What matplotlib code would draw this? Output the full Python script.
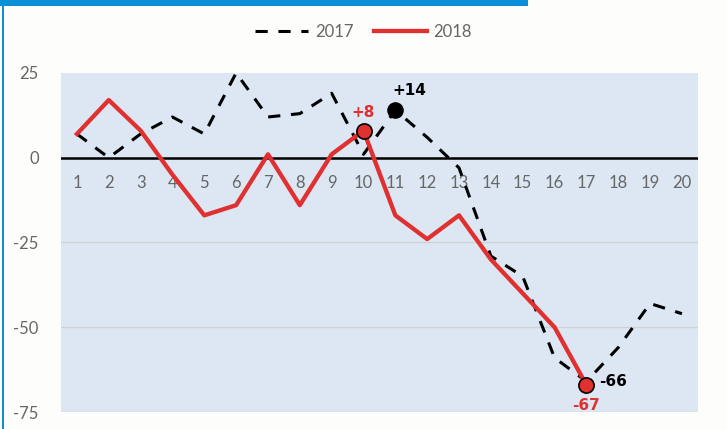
import numpy as np
import matplotlib.pyplot as plt
from matplotlib.patches import Rectangle
from matplotlib.lines import Line2D

days = list(range(1, 21))
y2017 = [7, 0, 7, 12, 7, 25, 12, 13, 19, 1, 14, 6, -3, -29, -35, -59, -66, -56, -43, -46]
days2018 = list(range(1, 18))
y2018 = [7, 17, 8, -5, -17, -14, 1, -14, 1, 8, -17, -24, -17, -30, -40, -50, -67]
yticks = [25, 0, -25, -50, -75]

plt.rcParams['font.family'] = ['Lato', 'DejaVu Sans']

gray = '#666666'
red = '#e03030'
bold = dict(fontsize=11, fontweight='bold', family='DejaVu Sans')

fig = plt.figure(figsize=(7.27, 4.29), dpi=100)
fig.patch.set_facecolor('#fdfdfc')
ax = fig.add_axes([0.0839, 0.0396, 0.876, 0.7904])
ax.set_facecolor('#dce7f3')

for gy in [-25, -50, -75]:
    ax.axhline(gy, color='#cfd3d8', lw=1, zorder=1)
ax.axhline(0, color='black', lw=1.8, zorder=2)

ax.plot(days, y2017, color='black', lw=2.2, dashes=(4, 3.5), zorder=3)
ax.plot(days2018, y2018, color=red, lw=3.1, zorder=4)

# highlighted points
ax.scatter([11], [14], s=120, color='black', zorder=5)
ax.scatter([10, 17], [8, -67], s=120, color=red, edgecolor='black', lw=1.2, zorder=6)

ax.text(10, 11, '+8', color=red, ha='center', va='bottom', **bold)
ax.text(10.9, 17.5, '+14', color='black', ha='left', va='bottom', **bold)
ax.text(17.4, -66, '-66', color='black', ha='left', va='center', **bold)
ax.text(17, -71, '-67', color=red, ha='center', va='top', **bold)

# x labels sit just under the zero line
for d in days:
    ax.text(d, -7.5, str(d), color=gray, fontsize=12, ha='center', va='center', zorder=2)

ax.set_xlim(0.5, 20.5)
ax.set_ylim(-75, 25)
ax.set_xticks([])
ax.set_yticks(yticks)
ax.set_yticklabels([str(t) for t in yticks], color=gray, fontsize=12)
ax.tick_params(axis='y', length=0, pad=16)
for s in ax.spines.values():
    s.set_visible(False)

handles = [Line2D([], [], color='black', lw=2.2, dashes=(4, 3.5)),
           Line2D([], [], color=red, lw=3.1)]
fig.legend(handles, ['2017', '2018'], loc='center', bbox_to_anchor=(0.5, 0.925),
           ncol=2, frameon=False, fontsize=12, labelcolor=gray,
           handlelength=3.2, columnspacing=1.2, handletextpad=0.4)

# blue frame pieces from the original slide
fig.add_artist(Rectangle((0, 0.987), 0.726, 0.013, transform=fig.transFigure,
                         color='#0b8fd6', lw=0))
fig.add_artist(Rectangle((0.003, 0), 0.003, 1, transform=fig.transFigure,
                         color='#0b8fd6', lw=0))

plt.savefig('out.png', dpi=100)
